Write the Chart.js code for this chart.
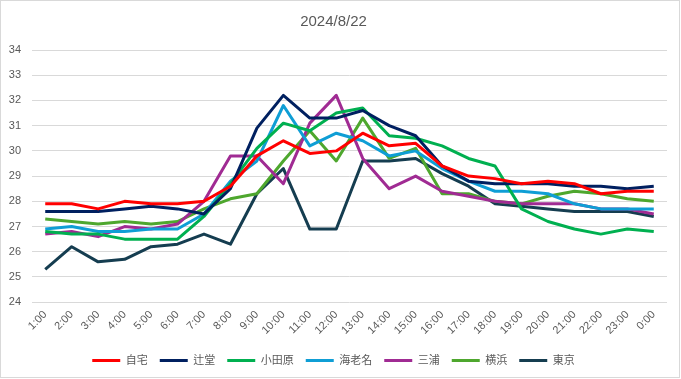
<!DOCTYPE html>
<html>
<head>
<meta charset="utf-8">
<script src="https://cdn.jsdelivr.net/npm/chart.js@4.4.1/dist/chart.umd.min.js"></script>
<style>
html,body{margin:0;padding:0;background:#fff;}
canvas{display:block;}
</style>
</head>
<body>
<canvas id="c" width="681" height="379"></canvas>
<script>
const hours = ["1:00","2:00","3:00","4:00","5:00","6:00","7:00","8:00","9:00","10:00","11:00","12:00","13:00","14:00","15:00","16:00","17:00","18:00","19:00","20:00","21:00","22:00","23:00","0:00"];
const jitaku  = [27.9,27.9,27.7,28.0,27.9,27.9,28.0,28.6,29.8,30.4,29.9,30.0,30.7,30.2,30.3,29.4,29.0,28.9,28.7,28.8,28.7,28.3,28.4,28.4];
const tsujido = [27.6,27.6,27.6,27.7,27.8,27.7,27.5,28.5,30.9,32.2,31.3,31.3,31.6,31.0,30.6,29.4,28.8,28.7,28.7,28.7,28.6,28.6,28.5,28.6];
const odawara = [26.8,26.7,26.7,26.5,26.5,26.5,27.4,28.7,30.1,31.1,30.8,31.5,31.7,30.6,30.5,30.2,29.7,29.4,27.7,27.2,26.9,26.7,26.9,26.8];
const ebina   = [26.9,27.0,26.8,26.8,26.9,26.9,27.5,28.8,29.6,31.8,30.2,30.7,30.4,29.8,30.0,29.3,28.8,28.4,28.4,28.3,27.9,27.7,27.7,27.7];
const miura   = [26.7,26.8,26.6,27.0,26.9,27.1,28.0,29.8,29.8,28.7,31.1,32.2,29.7,28.5,29.0,28.4,28.2,28.0,27.9,27.9,27.9,27.7,27.7,27.5];
const yokohama= [27.3,27.2,27.1,27.2,27.1,27.2,27.7,28.1,28.3,29.6,30.8,29.6,31.3,29.7,30.1,28.3,28.3,28.0,27.9,28.2,28.4,28.3,28.1,28.0];
const tokyo   = [25.3,26.2,25.6,25.7,26.2,26.3,26.7,26.3,28.3,29.3,26.9,26.9,29.6,29.6,29.7,29.1,28.6,27.9,27.8,27.7,27.6,27.6,27.6,27.4];
const seriesNames = ["自宅","辻堂","小田原","海老名","三浦","横浜","東京"];
const yTicks = [24,25,26,27,28,29,30,31,32,33,34];

const FONT = '"Liberation Sans", "Noto Sans CJK JP", sans-serif';
const TXT = '#595959';
const colors = ['#ff0000','#002060','#00b050','#0f9ed5','#a02b93','#4ea72e','#153d50'];
const dataArr = [jitaku,tsujido,odawara,ebina,miura,yokohama,tokyo];

const borderPlugin = {
  id:'outerBorder',
  afterDraw(chart){
    const ctx = chart.ctx;
    ctx.save();
    ctx.strokeStyle = '#d9d9d9';
    ctx.lineWidth = 1;
    ctx.strokeRect(0.5,0.5,679,377);
    ctx.restore();
  }
};

new Chart(document.getElementById('c'), {
  type:'line',
  data:{
    labels: hours,
    datasets: seriesNames.map((n,i)=>({
      label:n,
      data:dataArr[i],
      borderColor:colors[i],
      backgroundColor:colors[i],
      borderWidth:3,
      pointRadius:0,
      pointHoverRadius:0,
      pointStyle:'line',
      tension:0,
      borderJoinStyle:'round',
      fill:false
    }))
  },
  options:{
    responsive:false,
    animation:false,
    layout:{padding:{left:0,right:14,top:0,bottom:3}},
    plugins:{
      title:{display:true,text:'2024/8/22',color:TXT,font:{family:FONT,size:15,weight:'normal'},padding:{top:13,bottom:19}},
      legend:{position:'bottom',labels:{usePointStyle:true,pointStyleWidth:28,color:TXT,font:{family:FONT,size:11},padding:12,boxHeight:11}},
      tooltip:{enabled:false}
    },
    scales:{
      x:{
        offset:true,
        grid:{display:false,drawTicks:false},
        border:{display:false},
        ticks:{color:TXT,font:{family:FONT,size:11},minRotation:45,maxRotation:45,autoSkip:false,padding:6}
      },
      y:{
        min:24,max:34,
        afterFit(s){s.width=32;},
        afterBuildTicks(s){s.ticks = yTicks.map(v=>({value:v}));},
        grid:{color:'#d9d9d9',lineWidth:1,drawTicks:false},
        border:{display:false},
        ticks:{color:TXT,font:{family:FONT,size:11},padding:11}
      }
    }
  },
  plugins:[borderPlugin]
});
</script>
</body>
</html>
